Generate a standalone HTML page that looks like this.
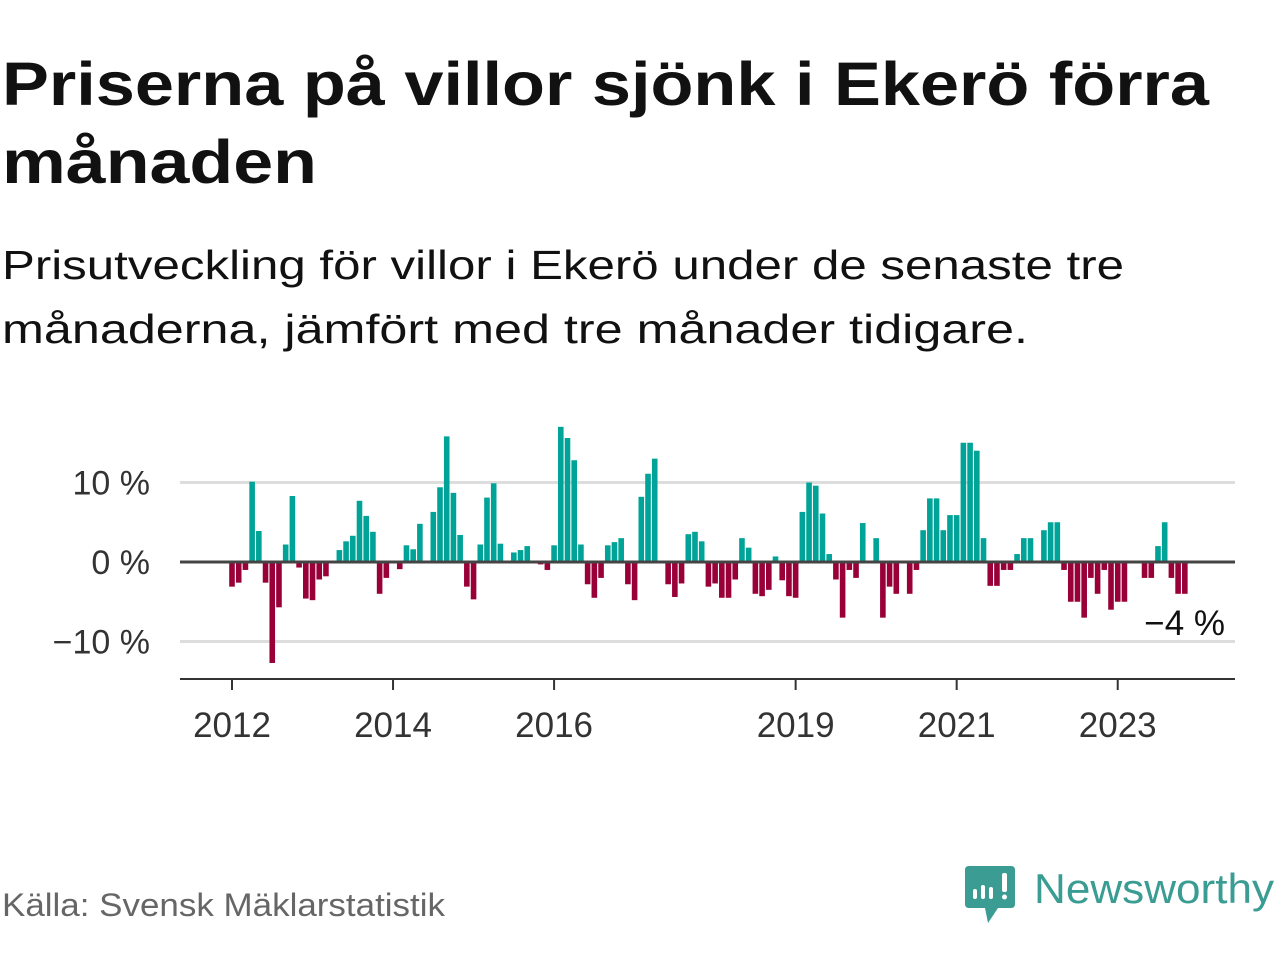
<!DOCTYPE html>
<html><head><meta charset="utf-8">
<style>
body{margin:0;width:1280px;height:960px;background:#fff;overflow:hidden;font-family:"Liberation Sans",sans-serif;}
svg{position:absolute;left:0;top:0;}
</style></head>
<body>
<svg width="1280" height="960" viewBox="0 0 1280 960">
<text x="2" y="105" font-size="61" font-weight="bold" fill="#111" textLength="1207" lengthAdjust="spacingAndGlyphs">Priserna på villor sjönk i Ekerö förra</text>
<text x="2" y="183" font-size="61" font-weight="bold" fill="#111" textLength="315" lengthAdjust="spacingAndGlyphs">månaden</text>
<text x="2" y="279" font-size="41" fill="#111" textLength="1122" lengthAdjust="spacingAndGlyphs">Prisutveckling för villor i Ekerö under de senaste tre</text>
<text x="2" y="343" font-size="41" fill="#111" textLength="1026" lengthAdjust="spacingAndGlyphs">månaderna, jämfört med tre månader tidigare.</text>
<g id="grid"></g>
<g id="bars"></g>
<g id="axes"></g>
<text x="2" y="916" font-size="32" fill="#666" textLength="443" lengthAdjust="spacingAndGlyphs">Källa: Svensk Mäklarstatistik</text>
<g>
<path d="M969 866 H1011 Q1015 866 1015 870 V904 Q1015 908 1011 908 H998 L988 923 L985 908 H969 Q965 908 965 904 V870 Q965 866 969 866 Z" fill="#3a9c92"/>
<rect x="973" y="889" width="4" height="10" rx="2" fill="#fff"/>
<rect x="981" y="885" width="4" height="14" rx="2" fill="#fff"/>
<rect x="989" y="887" width="4" height="12" rx="2" fill="#fff"/>
<rect x="1002" y="873" width="5" height="19" rx="2" fill="#fff"/>
<circle cx="1004.5" cy="897" r="2.5" fill="#fff"/>
<text x="1034" y="903" font-size="42" fill="#3a9c92" textLength="240" lengthAdjust="spacingAndGlyphs">Newsworthy</text>
</g>
</svg>
<script>
const startYear = 2012;
const values = [-3.1,-2.6,-1.0,10.1,3.9,-2.6,-12.7,-5.7,2.2,8.3,-0.7,-4.6,-4.8,-2.2,-1.8,null,1.5,2.6,3.3,7.7,5.8,3.8,-4.0,-2.0,null,-0.9,2.1,1.6,4.8,null,6.3,9.4,15.8,8.7,3.4,-3.1,-4.7,2.2,8.1,9.9,2.3,null,1.2,1.5,2.0,null,-0.3,-1.0,2.1,17.0,15.6,12.8,2.2,-2.8,-4.5,-2.0,2.1,2.5,3.0,-2.8,-4.8,8.2,11.1,13.0,null,-2.8,-4.4,-2.7,3.5,3.8,2.6,-3.1,-2.7,-4.5,-4.5,-2.2,3.0,1.8,-4.0,-4.3,-3.5,0.7,-2.3,-4.3,-4.5,6.3,10.0,9.6,6.1,1.0,-2.2,-7.0,-1.0,-2.0,4.9,null,3.0,-7.0,-3.1,-4.0,null,-4.0,-1.0,4.0,8.0,8.0,4.0,5.9,5.9,15.0,15.0,14.0,3.0,-3.0,-3.0,-1.0,-1.0,1.0,3.0,3.0,null,4.0,5.0,5.0,-1.0,-5.0,-5.0,-7.0,-2.0,-4.0,-1.0,-6.0,-5.0,-5.0,null,null,-2.0,-2.0,2.0,5.0,-2.0,-4.0,-4.0];
const yTicks = [10,0,-10];
const yTickLabels = ["10 %","0 %","\u221210 %"];
const xTickYears = [2012,2014,2016,2019,2021,2023];
const lastLabel = "\u22124 %";
const NS="http://www.w3.org/2000/svg";
const x = i => 232 + i*6.71;
const xYear = yr => x((yr-startYear)*12);
const y = v => 562 - v*7.95;
function mk(t,a,p){const e=document.createElementNS(NS,t);for(const k in a)e.setAttribute(k,a[k]);p.appendChild(e);return e;}
const grid=document.getElementById('grid'),bars=document.getElementById('bars'),axes=document.getElementById('axes');
yTicks.forEach((t,i)=>{
  if(t!==0){const l=mk('line',{x1:180,x2:1235,y1:y(t),y2:y(t),stroke:'#ddd','stroke-width':3},grid);
  
  }
  const tx=mk('text',{x:150,y:y(t)+12,'text-anchor':'end','font-size':34,fill:'#333'},axes);
  tx.textContent=yTickLabels[i];
  
  
});
values.forEach((v,i)=>{
  if(v===null)return;
  const top=v>0?y(v):y(0),h=Math.abs(y(v)-y(0));
  const r=mk('rect',{x:x(i)-2.8,y:top,width:5.6,height:h,fill:v>0?'#00a397':'#990038'},bars);
  
  
});
const z=mk('line',{x1:180,x2:1235,y1:y(0),y2:y(0),stroke:'#444','stroke-width':3},axes);


const ax=mk('line',{x1:180,x2:1235,y1:679,y2:679,stroke:'#333','stroke-width':2},axes);


xTickYears.forEach(yr=>{
  const tk=mk('line',{x1:xYear(yr),x2:xYear(yr),y1:679,y2:690,stroke:'#333','stroke-width':2},axes);
  
  
  const t=mk('text',{x:xYear(yr),y:737,'text-anchor':'middle','font-size':35,fill:'#333'},axes);
  t.textContent=yr;
  
  
});
const ll=mk('text',{x:1225,y:635,'text-anchor':'end','font-size':35,fill:'#111'},axes);
ll.textContent=lastLabel;


</script>
</body></html>
